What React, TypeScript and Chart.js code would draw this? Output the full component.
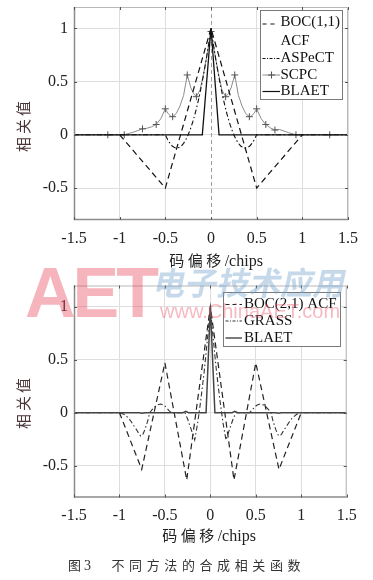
import React, { useEffect, useRef } from "react";
import { Chart, registerables } from "chart.js";
Chart.register(...registerables);

// ---------- data ----------
const X_TICKS = [-1.5, -1, -0.5, 0, 0.5, 1, 1.5];
const Y_TICKS = [-0.5, 0, 0.5, 1];

// top plot
const BOC11_X = [-1, -0.5, 0, 0.5, 1];
const BOC11_Y = [0, -0.5, 1, -0.5, 0];

const ASPECT_X = [-1.5, -0.5, -0.475, -0.45, -0.425, -0.4, -0.375, -0.35, -0.325, -0.3, -0.275, -0.25, -0.225, -0.2, -0.175, -0.15, -0.125, -0.1, -0.075, -0.05, -0.025, 0, 0.025, 0.05, 0.075, 0.1, 0.125, 0.15, 0.175, 0.2, 0.225, 0.25, 0.275, 0.3, 0.325, 0.35, 0.375, 0.4, 0.425, 0.45, 0.475, 0.5, 1.5];
const ASPECT_Y = [0, 0, -0.045, -0.08, -0.105, -0.12, -0.125, -0.12, -0.105, -0.08, -0.045, 0, 0.055, 0.12, 0.195, 0.28, 0.375, 0.48, 0.595, 0.72, 0.855, 1, 0.855, 0.72, 0.595, 0.48, 0.375, 0.28, 0.195, 0.12, 0.055, 0, -0.045, -0.08, -0.105, -0.12, -0.125, -0.12, -0.105, -0.08, -0.045, 0, 0];

const SCPC_X = [-1.5, -1.13, -0.95, -0.9, -0.85, -0.8, -0.75, -0.7, -0.65, -0.6, -0.55, -0.5, -0.47, -0.44, -0.42, -0.38, -0.34, -0.3, -0.26, -0.22, -0.19, -0.16, -0.12, -0.08, -0.04, 0, 0.04, 0.08, 0.12, 0.16, 0.19, 0.22, 0.26, 0.3, 0.34, 0.38, 0.42, 0.44, 0.47, 0.5, 0.55, 0.6, 0.65, 0.7, 0.75, 0.8, 0.85, 0.93, 1.3, 1.5];
const SCPC_Y = [0, 0, 0, 0.012, 0.025, 0.04, 0.056, 0.062, 0.075, 0.097, 0.15, 0.244, 0.2, 0.175, 0.17, 0.2, 0.27, 0.37, 0.562, 0.44, 0.385, 0.358, 0.42, 0.58, 0.77, 0.97, 0.77, 0.58, 0.42, 0.358, 0.385, 0.44, 0.562, 0.37, 0.27, 0.2, 0.17, 0.175, 0.2, 0.244, 0.15, 0.097, 0.065, 0.045, 0.05, 0.035, 0.02, 0, 0, 0];
const SCPC_MARKS = [-1.13, -0.95, -0.75, -0.6, -0.5, -0.42, -0.26, -0.16, 0, 0.16, 0.26, 0.42, 0.5, 0.6, 0.7, 0.93, 1.3];

const BLAET1_X = [-1.5, -0.095, 0, 0.088, 1.5];
const BLAET1_Y = [0, 0, 1, 0, 0];

// bottom plot
const BOC21_X = [-1, -0.755, -0.5, -0.26, 0, 0.26, 0.5, 0.755, 1];
const BOC21_Y = [0, -0.535, 0.47, -0.635, 1, -0.635, 0.47, -0.535, 0];

const GRASS_X = [-1.5, -1, -0.95, -0.9, -0.87, -0.84, -0.81, -0.785, -0.766, -0.745, -0.72, -0.69, -0.667, -0.64, -0.612, -0.58, -0.546, -0.51, -0.484, -0.455, -0.43, -0.28, -0.25, -0.21, -0.172, -0.14, -0.105, -0.07, -0.044, -0.02, 0, 0.02, 0.044, 0.07, 0.105, 0.14, 0.172, 0.21, 0.25, 0.28, 0.43, 0.455, 0.484, 0.51, 0.546, 0.58, 0.612, 0.64, 0.667, 0.69, 0.72, 0.745, 0.766, 0.785, 0.81, 0.84, 0.87, 0.9, 0.95, 1, 1.5];
const GRASS_Y = [0, 0, -0.015, -0.05, -0.085, -0.125, -0.163, -0.2, -0.22, -0.21, -0.16, -0.08, 0, 0.03, 0.055, 0.075, 0.082, 0.07, 0.05, 0.02, 0, 0, -0.06, -0.16, -0.257, -0.1, 0.12, 0.37, 0.59, 0.8, 1, 0.8, 0.59, 0.37, 0.12, -0.1, -0.257, -0.16, -0.06, 0, 0, 0.02, 0.05, 0.07, 0.082, 0.075, 0.055, 0.03, 0, -0.08, -0.16, -0.21, -0.22, -0.2, -0.163, -0.125, -0.085, -0.05, -0.015, 0, 0];

const BLAET2_X = [-1.5, -0.78, -0.75, -0.72, -0.3, -0.27, -0.24, -0.047, 0, 0.05, 0.24, 0.27, 0.3, 0.72, 0.75, 0.78, 1.5];
const BLAET2_Y = [0, 0, -0.006, 0, 0, 0.012, 0, 0, 1, 0, 0, 0.012, 0, 0, -0.006, 0, 0];

// ---------- helpers ----------
const SERIF = '"Liberation Serif", "Times New Roman", serif';
const CJK = '"Noto Sans CJK SC", "Noto Sans", sans-serif';
const pts = (xs: number[], ys: number[]) => xs.map((x, i) => ({ x, y: ys[i] }));

const DASH = [6, 4];
const DASHDOT = [5, 2.5, 1.5, 2.5];

function sample(ctx: CanvasRenderingContext2D, x1: number, x2: number, y: number, dash: number[], color: string, w: number) {
  ctx.save();
  ctx.setLineDash(dash);
  ctx.strokeStyle = color;
  ctx.lineWidth = w;
  ctx.beginPath();
  ctx.moveTo(x1, y);
  ctx.lineTo(x2, y);
  ctx.stroke();
  ctx.restore();
}

function makeFramePlugin(zeroDashed: boolean, drawLegend: (ctx: CanvasRenderingContext2D) => void) {
  return {
    id: "frameLegend",
    beforeDatasetsDraw(chart: any) {
      if (!zeroDashed) return;
      const { ctx, chartArea: a, scales } = chart;
      const px = Math.round(scales.x.getPixelForValue(0)) + 0.5;
      ctx.save();
      ctx.setLineDash([4, 3]);
      ctx.strokeStyle = "#9a9a9a";
      ctx.lineWidth = 1;
      ctx.beginPath();
      ctx.moveTo(px, a.top);
      ctx.lineTo(px, a.bottom);
      ctx.stroke();
      ctx.restore();
    },
    afterDatasetsDraw(chart: any) {
      const { ctx, chartArea: a, scales } = chart;
      ctx.save();
      ctx.strokeStyle = "#b8b8b8";
      ctx.lineWidth = 1;
      ctx.beginPath();
      ctx.moveTo(a.left, a.top + 0.5);
      ctx.lineTo(a.right - 0.5, a.top + 0.5);
      ctx.lineTo(a.right - 0.5, a.bottom);
      ctx.stroke();
      ctx.strokeStyle = "#8c8c8c";
      ctx.lineWidth = 1.5;
      ctx.beginPath();
      ctx.moveTo(a.left + 0.5, a.top);
      ctx.lineTo(a.left + 0.5, a.bottom - 0.5);
      ctx.lineTo(a.right, a.bottom - 0.5);
      ctx.stroke();
      ctx.strokeStyle = "#555";
      ctx.lineWidth = 1;
      ctx.beginPath();
      for (const v of X_TICKS) {
        const px = Math.round(scales.x.getPixelForValue(v)) + 0.5;
        ctx.moveTo(px, a.bottom);
        ctx.lineTo(px, a.bottom - 3);
        ctx.moveTo(px, a.top);
        ctx.lineTo(px, a.top + 3);
      }
      for (const v of Y_TICKS) {
        const py = Math.round(scales.y.getPixelForValue(v)) + 0.5;
        ctx.moveTo(a.left, py);
        ctx.lineTo(a.left + 3, py);
        ctx.moveTo(a.right, py);
        ctx.lineTo(a.right - 3, py);
      }
      ctx.stroke();
      ctx.restore();
      drawLegend(ctx);
    },
  };
}

function legendText(ctx: CanvasRenderingContext2D, t: string, x: number, y: number) {
  ctx.save();
  ctx.font = `15px ${SERIF}`;
  ctx.fillStyle = "#111";
  ctx.textBaseline = "middle";
  ctx.textAlign = "left";
  ctx.fillText(t, x, y);
  ctx.restore();
}

function legendBox(ctx: CanvasRenderingContext2D, x: number, y: number, w: number, h: number) {
  ctx.save();
  ctx.fillStyle = "#fff";
  ctx.fillRect(x, y, w, h);
  ctx.strokeStyle = "#7a7a7a";
  ctx.lineWidth = 1;
  ctx.strokeRect(x, y, w, h);
  ctx.restore();
}

function drawLegendTop(ctx: CanvasRenderingContext2D) {
  legendBox(ctx, 260.5, 10.5, 82, 89);
  sample(ctx, 262.5, 276, 24, [4, 4], "#111", 1.1);
  legendText(ctx, "BOC(1,1)", 280.5, 22.5);
  legendText(ctx, "ACF", 280.5, 41.5);
  sample(ctx, 262.5, 280, 58.5, [3, 1.5, 1, 1.5], "#111", 1);
  legendText(ctx, "ASPeCT", 280.5, 58.5);
  sample(ctx, 262.5, 280, 75, [], "#8c8c8c", 1);
  ctx.save();
  ctx.strokeStyle = "#555";
  ctx.lineWidth = 1;
  ctx.beginPath();
  ctx.moveTo(271.5, 71.5);
  ctx.lineTo(271.5, 78.5);
  ctx.moveTo(268, 75);
  ctx.lineTo(275, 75);
  ctx.stroke();
  ctx.restore();
  legendText(ctx, "SCPC", 280.5, 75);
  sample(ctx, 262.5, 280, 91.5, [], "#111", 1.2);
  legendText(ctx, "BLAET", 280.5, 91.5);
}

function drawLegendBottom(ctx: CanvasRenderingContext2D) {
  legendBox(ctx, 223.5, 14.5, 117, 54);
  sample(ctx, 225.5, 242, 26.5, [4, 3], "#222", 1.1);
  legendText(ctx, "BOC(2,1) ACF", 244, 26.5);
  sample(ctx, 225.5, 242, 43, [3, 1.5, 1, 1.5], "#333", 1);
  legendText(ctx, "GRASS", 244, 43);
  sample(ctx, 225.5, 242, 60, [], "#444", 1.4);
  legendText(ctx, "BLAET", 244, 60);
}

function makeOptions(padTop: number, padRight: number, xAxisH: number, zeroGrid: boolean) {
  const tickFont = { family: SERIF, size: 16 };
  return {
    responsive: false,
    animation: false as const,
    devicePixelRatio: 1,
    layout: { padding: { top: padTop, right: padRight, left: 0, bottom: 0 } },
    plugins: { legend: { display: false }, tooltip: { enabled: false } },
    elements: { line: { tension: 0 }, point: { radius: 0 } },
    scales: {
      x: {
        type: "linear" as const,
        min: -1.5,
        max: 1.5,
        afterBuildTicks: (s: any) => {
          s.ticks = X_TICKS.map((v) => ({ value: v }));
        },
        ticks: { font: tickFont, color: "#222", padding: 9, maxRotation: 0, autoSkip: false, callback: (v: any) => String(v) },
        grid: {
          drawTicks: false,
          color: (c: any) => (!zeroGrid && c.tick && c.tick.value === 0 ? "rgba(0,0,0,0)" : "#dedede"),
        },
        border: { display: false },
        afterFit: (s: any) => {
          s.height = xAxisH;
          s.paddingLeft = 0;
          s.paddingRight = 0;
        },
      },
      y: {
        type: "linear" as const,
        min: -0.8,
        max: 1.2,
        afterBuildTicks: (s: any) => {
          s.ticks = Y_TICKS.map((v) => ({ value: v }));
        },
        ticks: { font: tickFont, color: "#222", padding: 6, autoSkip: false, callback: (v: any) => String(v) },
        grid: { drawTicks: false, color: "#dedede" },
        border: { display: false },
        afterFit: (s: any) => {
          s.width = 74;
          s.paddingTop = 0;
          s.paddingBottom = 0;
        },
      },
    },
  };
}

export default function App() {
  const c1 = useRef<HTMLCanvasElement>(null);
  const c2 = useRef<HTMLCanvasElement>(null);

  useEffect(() => {
    const ch1 = new Chart(c1.current!, {
      type: "line",
      data: {
        datasets: [
          { label: "BLAET", data: pts(BLAET1_X, BLAET1_Y), borderColor: "#111", borderWidth: 1.3, order: 1 },
          { label: "BOC(1,1) ACF", data: pts(BOC11_X, BOC11_Y), borderColor: "#111", borderWidth: 1.2, borderDash: DASH, order: 2 },
          { label: "ASPeCT", data: pts(ASPECT_X, ASPECT_Y), borderColor: "#111", borderWidth: 1.1, borderDash: DASHDOT, order: 3 },
          {
            label: "SCPC",
            data: pts(SCPC_X, SCPC_Y),
            borderColor: "#8c8c8c",
            borderWidth: 1,
            order: 4,
            pointStyle: "cross",
            pointRadius: (c: any) => (c.raw && SCPC_MARKS.includes(c.raw.x) ? 3.5 : 0),
            pointBorderColor: "#555",
            pointBorderWidth: 1,
          },
        ],
      },
      options: makeOptions(7, 25, 30, false) as any,
      plugins: [makeFramePlugin(true, drawLegendTop)],
    });
    const ch2 = new Chart(c2.current!, {
      type: "line",
      data: {
        datasets: [
          { label: "BLAET", data: pts(BLAET2_X, BLAET2_Y), borderColor: "#444", borderWidth: 1.5, order: 1 },
          { label: "BOC(2,1) ACF", data: pts(BOC21_X, BOC21_Y), borderColor: "#222", borderWidth: 1.2, borderDash: DASH, order: 2 },
          { label: "GRASS", data: pts(GRASS_X, GRASS_Y), borderColor: "#333", borderWidth: 1.1, borderDash: DASHDOT, order: 3 },
        ],
      },
      options: makeOptions(7.5, 26.3, 30.5, true) as any,
      plugins: [makeFramePlugin(false, drawLegendBottom)],
    });
    return () => {
      ch1.destroy();
      ch2.destroy();
    };
  }, []);

  const xTitle = (cx: number, cy: number) => (
    <div style={{ position: "absolute", left: cx, top: cy, transform: "translate(-50%,-50%)", whiteSpace: "nowrap", color: "#222", lineHeight: 1 }}>
      <span style={{ fontFamily: CJK, fontSize: 15, letterSpacing: 3.5 }}>码偏移</span>
      <span style={{ fontFamily: SERIF, fontSize: 16 }}>/chips</span>
    </div>
  );
  const yTitle = (cx: number, cy: number) => (
    <div style={{ position: "absolute", left: cx, top: cy, transform: "translate(-50%,-50%) rotate(-90deg)", whiteSpace: "nowrap", color: "#4a3538", fontFamily: CJK, fontSize: 15, letterSpacing: 3, lineHeight: 1 }}>
      相关值
    </div>
  );

  return (
    <div style={{ position: "absolute", left: 0, top: 0, width: 373, height: 580, background: "#fff", overflow: "hidden" }}>
      <canvas ref={c1} width={373} height={250} style={{ position: "absolute", left: 0, top: 0, display: "block" }} />
      <canvas ref={c2} width={373} height={250} style={{ position: "absolute", left: 0, top: 278, display: "block" }} />
      {xTitle(216, 260)}
      {xTitle(209, 535)}
      {yTitle(22, 125)}
      {yTitle(22, 402)}
      <div style={{ position: "absolute", left: 68, top: 558, fontFamily: CJK, fontSize: 13, color: "#333", lineHeight: 1, whiteSpace: "pre" }}>
        图 <span style={{ fontFamily: SERIF, fontSize: 14 }}>3</span>
      </div>
      <div style={{ position: "absolute", left: 111.5, top: 558, fontFamily: CJK, fontSize: 13, color: "#333", lineHeight: 1, letterSpacing: 4.6, whiteSpace: "nowrap" }}>
        不同方法的合成相关函数
      </div>
      {/* watermark */}
      <div style={{ position: "absolute", left: 25, top: 257.6, fontFamily: '"Liberation Sans", Arial, sans-serif', fontWeight: 700, fontSize: 70, lineHeight: "70px", letterSpacing: -3, color: "rgba(232,70,90,0.4)", pointerEvents: "none", whiteSpace: "nowrap" }}>
        AET
      </div>
      <div style={{ position: "absolute", left: 155, top: 265, fontFamily: CJK, fontWeight: 700, fontSize: 32, lineHeight: "32px", color: "rgba(110,160,205,0.4)", transform: "skewX(-12deg)", pointerEvents: "none", whiteSpace: "nowrap" }}>
        电子技术应用
      </div>
      <div style={{ position: "absolute", left: 160, top: 301.4, fontFamily: '"Liberation Sans", Arial, sans-serif', fontSize: 20, lineHeight: "20px", color: "rgba(235,80,100,0.4)", pointerEvents: "none", whiteSpace: "nowrap" }}>
        www.ChinaAET.com
      </div>
    </div>
  );
}
